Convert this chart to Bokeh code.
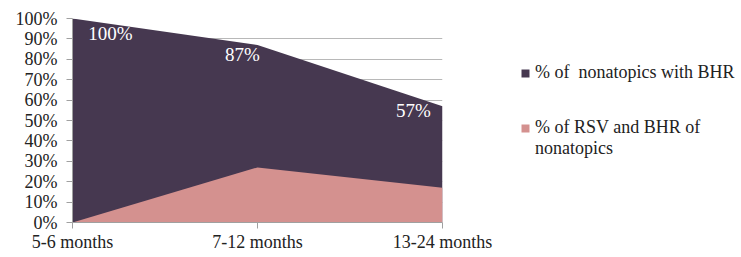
from bokeh.plotting import figure
from bokeh.layouts import row
from bokeh.models import (ColumnDataSource, Legend, LegendItem, FixedTicker,
                          LabelSet, Range1d)
from bokeh.embed import file_html
from bokeh.resources import INLINE

categories = ["5-6 months", "7-12 months", "13-24 months"]
bhr = [1.00, 0.87, 0.57]
rsv_bhr = [0.0, 0.27, 0.17]
bhr_labels = ["100%", "87%", "57%"]
y_ticks = [i / 10 for i in range(11)]
y_tick_labels = [f"{i * 10}%" for i in range(11)]
legend_labels = ["% of  nonatopics with BHR", "% of RSV and BHR of", "nonatopics"]

DARK = "#463850"
PINK = "#d4918f"
FONT = "Liberation Serif"

x = list(range(len(categories)))
src = ColumnDataSource(dict(x=x, bhr=bhr, rsv=rsv_bhr, zero=[0] * len(x),
                            lab=bhr_labels,
                            xo=[38, -15, -29], yo=[-15, -9, -4]))

p = figure(width=502, height=257, output_backend="svg", toolbar_location=None,
           x_range=Range1d(0, 2), y_range=Range1d(0, 1.0),
           min_border_left=72, min_border_right=60, min_border_top=18,
           min_border_bottom=35)
p.outline_line_color = None
p.background_fill_color = "white"
p.border_fill_color = "white"

p.varea(x="x", y1="zero", y2="bhr", source=src, fill_color=DARK)
p.varea(x="x", y1="zero", y2="rsv", source=src, fill_color=PINK)

p.xgrid.grid_line_color = None
p.ygrid.ticker = FixedTicker(ticks=y_ticks)
p.ygrid.grid_line_color = "#b8b8b8"
p.ygrid.grid_line_width = 1

p.yaxis.ticker = FixedTicker(ticks=y_ticks)
p.yaxis.major_label_overrides = {t: l for t, l in zip(y_ticks, y_tick_labels)}
p.xaxis.ticker = FixedTicker(ticks=x)
p.xaxis.major_label_overrides = {i: c for i, c in zip(x, categories)}
for ax in (p.xaxis[0], p.yaxis[0]):
    ax.axis_line_color = "#a0a0a0"
    ax.major_tick_line_color = "#a0a0a0"
    ax.minor_tick_line_color = None
    ax.major_tick_in = 0
    ax.major_tick_out = 6
    ax.major_label_text_font = FONT
    ax.major_label_text_color = "#222222"
p.yaxis.major_label_text_font_size = "18px"
p.yaxis.major_label_standoff = 9
p.xaxis.major_label_text_font_size = "18px"
p.xaxis.major_label_standoff = 3

labels = LabelSet(x="x", y="bhr", text="lab", source=src, x_offset="xo",
                  y_offset="yo", text_align="center", text_baseline="middle",
                  text_color="white", text_font=FONT, text_font_size="19px")
p.add_layout(labels)

# legend panel (its ranges keep the series out of view; only the legend shows)
lf = figure(width=239, height=257, output_backend="svg", toolbar_location=None,
            x_axis_type=None, y_axis_type=None, x_range=Range1d(10, 11),
            y_range=Range1d(10, 11), min_border=0)
lf.outline_line_color = None
lf.xgrid.grid_line_color = None
lf.ygrid.grid_line_color = None
g1 = lf.varea(x="x", y1="zero", y2="bhr", source=src, fill_color=DARK)
g2 = lf.varea(x="x", y1="zero", y2="rsv", source=src, fill_color=PINK)
g3 = lf.varea(x="x", y1="zero", y2="rsv", source=src, fill_alpha=0)


def style(leg):
    leg.border_line_color = None
    leg.background_fill_alpha = 0
    leg.padding = 0
    leg.margin = 0
    leg.spacing = 0
    leg.glyph_width = 10
    leg.glyph_height = 10
    leg.label_text_font = FONT
    leg.label_text_font_size = "18px"
    leg.label_text_color = "#222222"
    leg.label_standoff = 5
    leg.label_height = 20


legA = Legend(items=[LegendItem(label=legend_labels[0], renderers=[g1])],
              location=(18, 139))
legB = Legend(items=[LegendItem(label=legend_labels[1], renderers=[g2]),
                     LegendItem(label=legend_labels[2], renderers=[g3])],
              location=(18, 63))
style(legA)
style(legB)
lf.add_layout(legA)
lf.add_layout(legB)

open("out.html", "w").write(file_html(row(p, lf), INLINE))
